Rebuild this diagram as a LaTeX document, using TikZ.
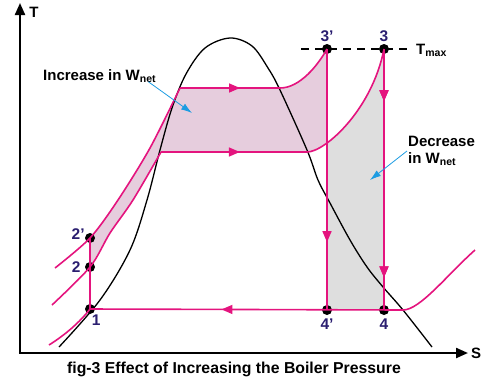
\documentclass[tikz,border=0pt]{standalone}
\usepackage{fontspec}
\setmainfont{Liberation Sans}
\usepackage{tikz}
\usetikzlibrary{positioning}
\usetikzlibrary{arrows.meta}
\usetikzlibrary{decorations.markings}
\usetikzlibrary{backgrounds}
\definecolor{cyclepink}{RGB}{228,20,126}
\definecolor{gainpink}{RGB}{230,205,221}
\definecolor{lossgrey}{RGB}{222,222,222}
\definecolor{statenavy}{RGB}{42,30,112}
\definecolor{noteblue}{RGB}{28,156,226}
\newcommand{\tmaxy}{49}
\newcommand{\condy}{310}
\newcommand{\onex}{90}
\newcommand{\threepx}{327}
\newcommand{\threex}{384}

\tikzset{
  cycleline/.style={cyclepink, line width=1.6pt},
  flowarrow/.style={postaction={decorate}, decoration={markings,
      mark=at position #1 with {\arrow{Triangle[length=11pt,width=9pt]}}}},
  statedot/.style={circle, fill=black, inner sep=0pt, minimum size=10pt},
  statelabel/.style={text=statenavy, font=\fontsize{15.5}{15.5}\selectfont\bfseries, inner sep=0pt},
  notetext/.style={font=\fontsize{15}{17}\selectfont\bfseries, inner sep=0pt, align=left},
  notearrow/.style={noteblue, line width=0.8pt, -{Latex[length=11pt,width=7pt]}},
}

\begin{document}
\begin{tikzpicture}[x=1pt, y=-1pt]
  \useasboundingbox (0,0) rectangle (482,384);

  % state points
  \node[statedot] (p1) at (\onex,309) {};
  \node[statedot] (p2) at (\onex,267) {};
  \node[statedot] (p2p) at (\onex,238) {};
  \node[statedot] (p3p) at (\threepx,\tmaxy) {};
  \node[statedot] (p3) at (\threex,\tmaxy) {};
  \node[statedot] (p4p) at (\threepx,\condy) {};
  \node[statedot] (p4) at (\threex,\condy) {};

  \begin{scope}[on background layer]
    % gain in work
    \begin{scope}
      \clip (0,0) rectangle (\threepx,384);
      \fill[gainpink] plot[smooth] coordinates
          {(\onex,238) (118,200) (150,148) (180,88)}
        -- (280,88) .. controls (300,88) and (318,65) .. (\threepx,\tmaxy)
        -- (\threex,\tmaxy) .. controls (372,110) and (325,152) .. (307,152)
        -- plot[smooth] coordinates {(161,152) (133,200) (110,233) (\onex,267)}
        -- cycle;
    \end{scope}
    % loss in work
    \begin{scope}
      \clip (\threepx,0) rectangle (482,384);
      \fill[lossgrey] (307,152) .. controls (325,152) and (372,110) .. (\threex,\tmaxy)
        -- (\threex,\condy) -- (300,\condy) -- cycle;
    \end{scope}
  \end{scope}

  % axes
  \draw[line width=2.2pt, -{Triangle[length=12pt,width=10pt]}] (20,353) -- (20,3);
  \draw[line width=2.2pt, -{Triangle[length=12pt,width=10pt]}] (18.9,353) -- (468,353);
  \node[notetext] (taxis) at (34,12) {T};
  \node[notetext] (saxis) at (476,353) {S};

  % saturation dome
  \draw[black, line width=1.3pt] plot[smooth, tension=0.55] coordinates
    {(59,347) (100,300) (130,250) (147,200) (160,150) (172,108) (186,74)
     (205,48) (230,38) (252,46) (268,68) (280,90) (307,150) (318,180)
     (330,203) (350,240) (367,267) (383,287) (403,310) (432,347)};

  % isobars
  \draw[cycleline] plot[smooth] coordinates
    {(52,305) (\onex,267) (110,233) (133,200) (161,152)};
  \draw[cycleline] plot[smooth] coordinates
    {(55,268) (\onex,238) (118,200) (150,148) (180,88)};
  \draw[cycleline, flowarrow=0.54] (161,152) -- (307,152);
  \draw[cycleline, flowarrow=0.6] (180,88) -- (280,88);
  \draw[cycleline] (307,152) .. controls (325,152) and (372,110) .. (p3.center);
  \draw[cycleline] (280,88) .. controls (300,88) and (318,65) .. (p3p.center);
  \draw[cycleline] (49,345) .. controls (65,335) and (80,322) .. (p1.center);
  \draw[cycleline, flowarrow=0.58] (403,\condy) -- (p1.center);
  \draw[cycleline] (403,\condy) .. controls (420,310) and (447,275) .. (475,250);
  \draw[cycleline] (p1.center) -- (p2p.center);
  \draw[cycleline, flowarrow=0.74] (p3p.center) -- (p4p.center);
  \draw[cycleline, flowarrow=0.2, flowarrow=0.875] (p3.center) -- (p4.center);

  % Tmax line
  \draw[black, line width=1.4pt, dash pattern=on 8pt off 6pt] (301,\tmaxy) -- (408,\tmaxy);
  \node[notetext, anchor=west] (tmax) at (416,50) {T\textsubscript{max}};

  % labels of states
  \node[statelabel, below right=2pt and -2pt of p1] (l1) {1};
  \node[statelabel, left=4pt of p2] (l2) {2};
  \node[statelabel, left=0pt of p2p, yshift=4pt] (l2p) {2’};
  \node[statelabel, above=2pt of p3p] (l3p) {3’};
  \node[statelabel, above=2pt of p3] (l3) {3};
  \node[statelabel, below=3pt of p4p] (l4p) {4’};
  \node[statelabel, below=3pt of p4] (l4) {4};

  % notes
  \node[notetext, anchor=west] (incr) at (43,76) {Increase in W\textsubscript{net}};
  \coordinate (incrtip) at (192,113);
  \draw[notearrow] ([xshift=-8pt,yshift=1pt]incr.south east) -- (incrtip);
  \node[notetext, anchor=west] (decr) at (408,151) {Decrease\\in W\textsubscript{net}};
  \coordinate (decrtip) at (370,180);
  \draw[notearrow] ([xshift=-1pt]decr.west) -- (decrtip);

  % caption
  \node[notetext, font=\fontsize{15.8}{17}\selectfont\bfseries] (caption) at (234,369)
    {fig-3 Effect of Increasing the Boiler Pressure};
\end{tikzpicture}
\end{document}
